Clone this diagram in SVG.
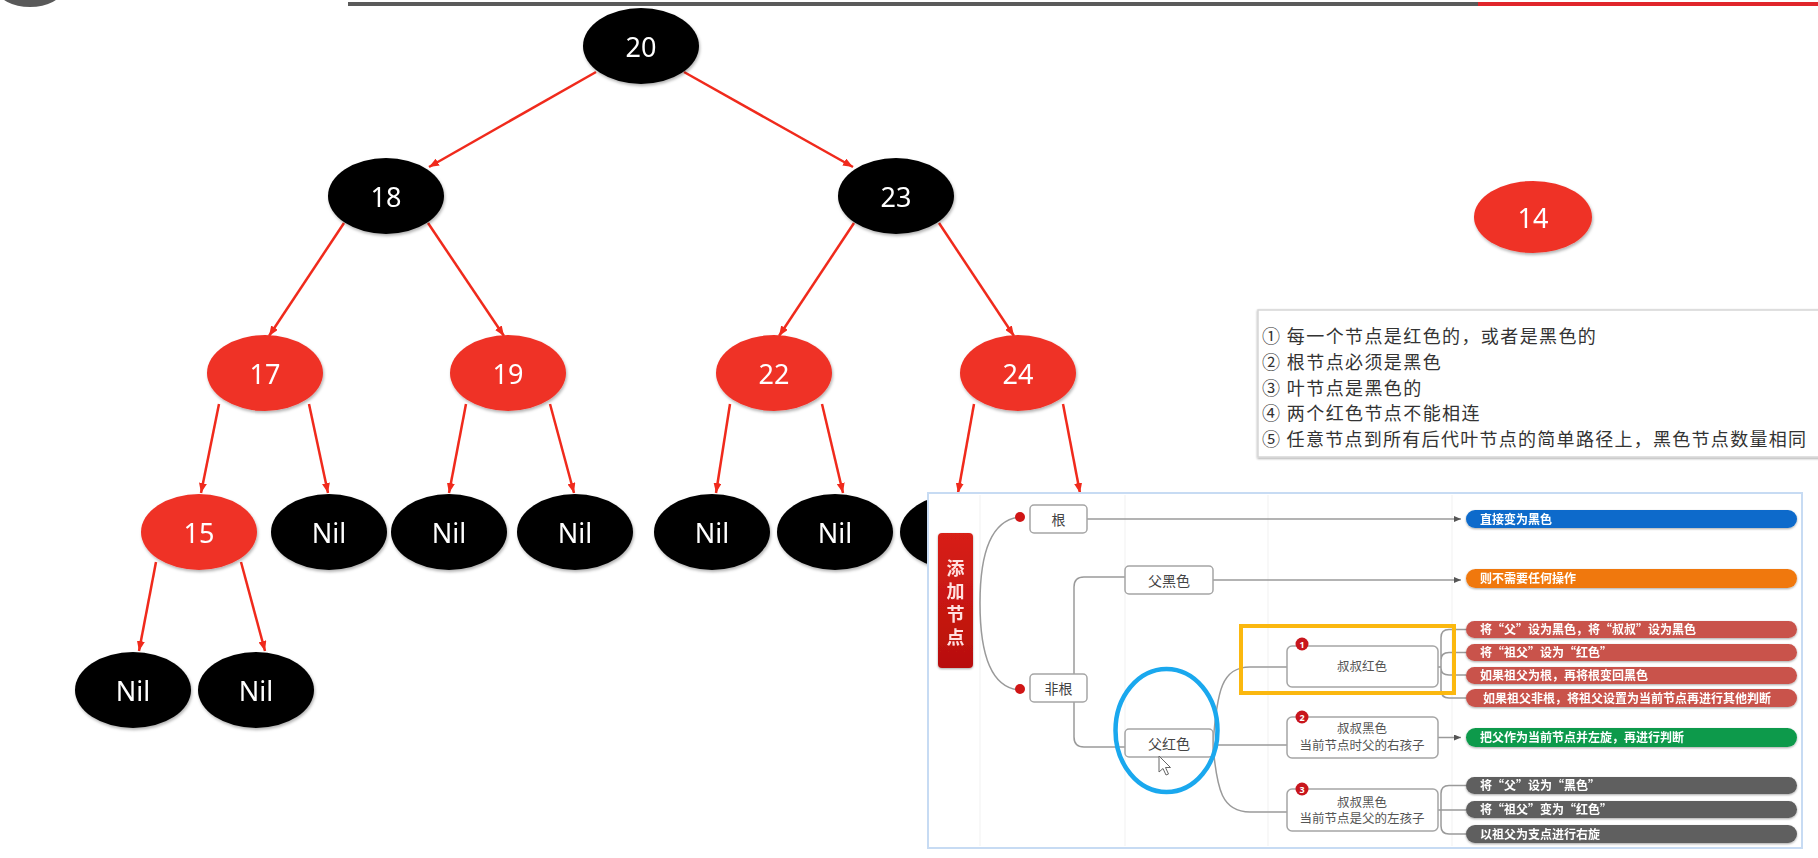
<svg xmlns="http://www.w3.org/2000/svg" width="1818" height="858" viewBox="0 0 1818 858">
<defs>
<style>
.bn{fill:#000}
.rn{fill:#ef3228}
.nt{font-family:"Noto Sans","Open Sans",sans-serif;font-size:27px;fill:#fff;text-anchor:middle;dominant-baseline:central}
.edge{stroke:#f02a1c;stroke-width:2.5;fill:none;marker-end:url(#ra)}
.cjk{font-family:"Noto Sans CJK SC","Noto Sans",sans-serif}
.rule{font-size:18px;fill:#333;letter-spacing:1.4px}
.box{fill:#fff;stroke:#a5a5a5;stroke-width:1.5}
.bt{font-size:14px;fill:#444;text-anchor:middle;dominant-baseline:central}
.st{font-size:12.5px;fill:#555;text-anchor:middle}
.conn{stroke:#9a9a9a;stroke-width:1.5;fill:none}
.pt{font-size:12px;fill:#fff;font-weight:bold}
.grid{stroke:#f1f1f1;stroke-width:1}
.badge{fill:#c8161d}
.bgt{font-family:"Noto Sans",sans-serif;font-size:9px;fill:#fff;text-anchor:middle;font-weight:bold}
</style>
<marker id="ra" markerWidth="10" markerHeight="8" refX="10" refY="4" orient="auto" markerUnits="userSpaceOnUse"><path d="M0,0 L10,4 L0,8 z" fill="#f02a1c"/></marker>
<marker id="ga" markerWidth="7" markerHeight="6" refX="7" refY="3" orient="auto" markerUnits="userSpaceOnUse"><path d="M0,0 L7,3 L0,6 z" fill="#555"/></marker>
<filter id="sh" x="-20%" y="-20%" width="140%" height="150%"><feDropShadow dx="1" dy="2" stdDeviation="1.5" flood-color="#000" flood-opacity="0.3"/></filter>
<filter id="sh2" x="-5%" y="-10%" width="110%" height="130%"><feDropShadow dx="0" dy="1" stdDeviation="1.2" flood-color="#000" flood-opacity="0.35"/></filter>
<linearGradient id="rg" x1="0" y1="0" x2="0" y2="1"><stop offset="0" stop-color="#d82018"/><stop offset="1" stop-color="#b80f0c"/></linearGradient>
</defs>

<g id="header">
<ellipse cx="30" cy="-10" rx="32" ry="17" fill="#595959"/>
<rect x="348" y="2" width="1130" height="4" fill="#5a5a5a"/>
<rect x="1478" y="2" width="340" height="4" fill="#e0252b"/>
</g>

<g id="connectors">
<path class="edge" d="M596,72 L429,167"/>
<path class="edge" d="M684,72 L853,167"/>
<path class="edge" d="M344,223 L269,336"/>
<path class="edge" d="M428,223 L504,336"/>
<path class="edge" d="M854,223 L779,336"/>
<path class="edge" d="M939,223 L1014,336"/>
<path class="edge" d="M219,404 L201,493"/>
<path class="edge" d="M309,404 L328,493"/>
<path class="edge" d="M466,404 L449,493"/>
<path class="edge" d="M550,404 L574,493"/>
<path class="edge" d="M730,404 L716,493"/>
<path class="edge" d="M822,404 L843,493"/>
<path class="edge" d="M974,404 L958,493"/>
<path class="edge" d="M1063,404 L1080,493"/>
<path class="edge" d="M156,562 L139,651"/>
<path class="edge" d="M241,562 L265,651"/>
</g>

<g id="n20" filter="url(#sh)"><ellipse class="bn" cx="641" cy="46" rx="58" ry="38"/><text class="nt" x="641" y="46">20</text></g>
<g id="n18" filter="url(#sh)"><ellipse class="bn" cx="386" cy="196" rx="58" ry="38"/><text class="nt" x="386" y="196">18</text></g>
<g id="n23" filter="url(#sh)"><ellipse class="bn" cx="896" cy="196" rx="58" ry="38"/><text class="nt" x="896" y="196">23</text></g>
<g id="n17" filter="url(#sh)"><ellipse class="rn" cx="265" cy="373" rx="58" ry="38"/><text class="nt" x="265" y="373">17</text></g>
<g id="n19" filter="url(#sh)"><ellipse class="rn" cx="508" cy="373" rx="58" ry="38"/><text class="nt" x="508" y="373">19</text></g>
<g id="n22" filter="url(#sh)"><ellipse class="rn" cx="774" cy="373" rx="58" ry="38"/><text class="nt" x="774" y="373">22</text></g>
<g id="n24" filter="url(#sh)"><ellipse class="rn" cx="1018" cy="373" rx="58" ry="38"/><text class="nt" x="1018" y="373">24</text></g>
<g id="n15" filter="url(#sh)"><ellipse class="rn" cx="199" cy="532" rx="58" ry="38"/><text class="nt" x="199" y="532">15</text></g>
<g id="nil1" filter="url(#sh)"><ellipse class="bn" cx="329" cy="532" rx="58" ry="38"/><text class="nt" x="329" y="532">Nil</text></g>
<g id="nil2" filter="url(#sh)"><ellipse class="bn" cx="449" cy="532" rx="58" ry="38"/><text class="nt" x="449" y="532">Nil</text></g>
<g id="nil3" filter="url(#sh)"><ellipse class="bn" cx="575" cy="532" rx="58" ry="38"/><text class="nt" x="575" y="532">Nil</text></g>
<g id="nil4" filter="url(#sh)"><ellipse class="bn" cx="712" cy="532" rx="58" ry="38"/><text class="nt" x="712" y="532">Nil</text></g>
<g id="nil5" filter="url(#sh)"><ellipse class="bn" cx="835" cy="532" rx="58" ry="38"/><text class="nt" x="835" y="532">Nil</text></g>
<g id="nil6" filter="url(#sh)"><ellipse class="bn" cx="958" cy="532" rx="58" ry="38"/></g>
<g id="nil7" filter="url(#sh)"><ellipse class="bn" cx="133" cy="690" rx="58" ry="38"/><text class="nt" x="133" y="690">Nil</text></g>
<g id="nil8" filter="url(#sh)"><ellipse class="bn" cx="256" cy="690" rx="58" ry="38"/><text class="nt" x="256" y="690">Nil</text></g>
<g id="n14" filter="url(#sh)"><ellipse class="rn" cx="1533" cy="217" rx="59" ry="36"/><text class="nt" x="1533" y="217">14</text></g>

<g id="rules">
<rect x="1258" y="310" width="570" height="147" fill="#fff" stroke="#d6d6d6" stroke-width="1.5" filter="url(#sh2)"/>
<g class="cjk rule">
<text x="1262" y="343">① 每一个节点是红色的，或者是黑色的</text>
<text x="1262" y="369">② 根节点必须是黑色</text>
<text x="1262" y="395">③ 叶节点是黑色的</text>
<text x="1262" y="420">④ 两个红色节点不能相连</text>
<text x="1262" y="446" style="letter-spacing:0" textLength="544" lengthAdjust="spacing">⑤ 任意节点到所有后代叶节点的简单路径上，黑色节点数量相同</text>
</g>
</g>

<g id="panel">
<rect x="928" y="493" width="874" height="355" fill="#fff" stroke="#c7dbf3" stroke-width="2"/>
<line class="grid" x1="980" y1="495" x2="980" y2="846"/>
<line class="grid" x1="1125" y1="495" x2="1125" y2="846"/>
<line class="grid" x1="1268" y1="495" x2="1268" y2="846"/>
<line class="grid" x1="1452" y1="495" x2="1452" y2="846"/>
</g>

<g id="panel-connectors">
<path class="conn" d="M1020,517 C988,520 980,560 980,603 C980,646 988,688 1020,690"/>
<path class="conn" d="M1087,519 H1461" marker-end="url(#ga)"/>
<path class="conn" d="M1125,577 H1084 Q1074,577 1074,587 V737 Q1074,747 1084,747 H1125"/>
<path class="conn" d="M1213,580 H1461" marker-end="url(#ga)"/>
<path class="conn" d="M1213,744 C1217,690 1222,667 1250,667 H1287"/>
<path class="conn" d="M1213,745 H1287"/>
<path class="conn" d="M1213,746 C1217,790 1222,812 1250,812 H1287"/>
<path class="conn" d="M1466,629.5 H1449 Q1441,629.5 1441,637.5 V690 Q1441,698 1449,698 H1466 M1466,652.5 H1449 Q1441,652.5 1441,660 M1441,668 Q1441,675 1449,675 H1466 M1438,667 H1441"/>
<path class="conn" d="M1438,737.5 H1461" marker-end="url(#ga)"/>
<path class="conn" d="M1466,785.5 H1449 Q1441,785.5 1441,793.5 V826 Q1441,834 1449,834 H1466 M1438,810 H1466"/>
<circle cx="1020" cy="517" r="5" fill="#d01515"/>
<circle cx="1020" cy="689" r="5" fill="#d01515"/>
</g>

<g id="add-node" filter="url(#sh2)">
<rect x="938" y="533" width="35" height="135" rx="4" fill="url(#rg)"/>
<g class="cjk" font-size="18" fill="#ffe0e0" text-anchor="middle" font-weight="bold">
<text x="955.5" y="575">添</text>
<text x="955.5" y="598">加</text>
<text x="955.5" y="621">节</text>
<text x="955.5" y="644">点</text>
</g>
</g>

<g id="root-box"><rect class="box" x="1030" y="505" width="57" height="28" rx="4"/><text class="cjk bt" x="1058.5" y="519">根</text></g>
<g id="nonroot-box"><rect class="box" x="1030" y="674" width="57" height="28" rx="4"/><text class="cjk bt" x="1058.5" y="688">非根</text></g>
<g id="fblack-box"><rect class="box" x="1125" y="566" width="88" height="28" rx="4"/><text class="cjk bt" x="1169" y="580">父黑色</text></g>
<g id="fred-box"><rect class="box" x="1125" y="729" width="88" height="28" rx="4"/><text class="cjk bt" x="1169" y="743">父红色</text></g>

<g id="case1"><rect class="box" x="1287" y="646" width="151" height="41" rx="5"/><text class="cjk st" x="1362" y="671">叔叔红色</text><circle class="badge" cx="1302" cy="644" r="6.5"/><text class="bgt" x="1302" y="647.5">1</text></g>
<g id="case2"><rect class="box" x="1287" y="717" width="151" height="41" rx="5"/><text class="cjk st" x="1362" y="733">叔叔黑色</text><text class="cjk st" x="1362" y="750">当前节点时父的右孩子</text><circle class="badge" cx="1302" cy="717" r="6.5"/><text class="bgt" x="1302" y="720.5">2</text></g>
<g id="case3"><rect class="box" x="1287" y="789" width="151" height="42" rx="5"/><text class="cjk st" x="1362" y="807">叔叔黑色</text><text class="cjk st" x="1362" y="823">当前节点是父的左孩子</text><circle class="badge" cx="1302" cy="789" r="6.5"/><text class="bgt" x="1302" y="792.5">3</text></g>

<g id="pill-blue" filter="url(#sh2)"><rect x="1466" y="510" width="331" height="18" rx="9" fill="#0b6bcb"/><text class="cjk pt" x="1480" y="523.5">直接变为黑色</text></g>
<g id="pill-orange" filter="url(#sh2)"><rect x="1466" y="569" width="331" height="19" rx="9.5" fill="#f0780c"/><text class="cjk pt" x="1480" y="583">则不需要任何操作</text></g>
<g id="pill-r1" filter="url(#sh2)"><rect x="1466" y="621" width="331" height="17" rx="8.5" fill="#c9534b"/><text class="cjk pt" x="1480" y="634">将“父”设为黑色，将“叔叔”设为黑色</text></g>
<g id="pill-r2" filter="url(#sh2)"><rect x="1466" y="644" width="331" height="17" rx="8.5" fill="#c9534b"/><text class="cjk pt" x="1480" y="657">将“祖父”设为“红色”</text></g>
<g id="pill-r3" filter="url(#sh2)"><rect x="1466" y="667" width="331" height="17" rx="8.5" fill="#c9534b"/><text class="cjk pt" x="1480" y="680">如果祖父为根，再将根变回黑色</text></g>
<g id="pill-r4" filter="url(#sh2)"><rect x="1466" y="689" width="331" height="18" rx="9" fill="#c9534b"/><text class="cjk pt" x="1483" y="702.5">如果祖父非根，将祖父设置为当前节点再进行其他判断</text></g>
<g id="pill-green" filter="url(#sh2)"><rect x="1466" y="728" width="331" height="19" rx="9.5" fill="#0a9a4c"/><text class="cjk pt" x="1480" y="742">把父作为当前节点并左旋，再进行判断</text></g>
<g id="pill-g1" filter="url(#sh2)"><rect x="1466" y="777" width="331" height="17" rx="8.5" fill="#5e5e5e"/><text class="cjk pt" x="1480" y="790">将“父”设为“黑色”</text></g>
<g id="pill-g2" filter="url(#sh2)"><rect x="1466" y="801" width="331" height="17" rx="8.5" fill="#5e5e5e"/><text class="cjk pt" x="1480" y="814">将“祖父”变为“红色”</text></g>
<g id="pill-g3" filter="url(#sh2)"><rect x="1466" y="825" width="331" height="18" rx="9" fill="#5e5e5e"/><text class="cjk pt" x="1480" y="838.5">以祖父为支点进行右旋</text></g>

<g id="highlights">
<rect x="1241" y="626" width="213" height="67" fill="none" stroke="#fbb80f" stroke-width="4"/>
<ellipse cx="1166.5" cy="730.5" rx="51" ry="61.5" fill="none" stroke="#1aa8ee" stroke-width="4.5"/>
<path d="M1159,756 L1159,772 L1163,768.5 L1166,775 L1168.5,774 L1165.5,767.5 L1170.5,767.5 Z" fill="#fff" stroke="#666" stroke-width="1"/>
</g>
</svg>
